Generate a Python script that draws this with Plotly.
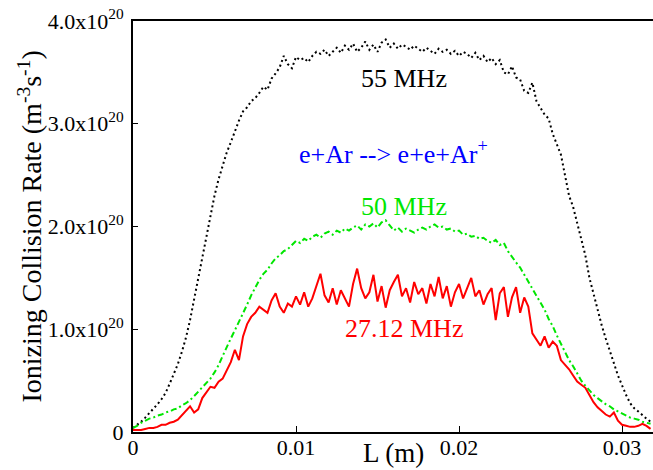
import plotly.graph_objects as go

# Position along the discharge gap (mm)
x_mm = [0, 0.25, 0.5, 0.75, 1, 1.25, 1.5, 1.75, 2, 2.25, 2.5, 2.75, 3, 3.25, 3.5, 3.75,
        4, 4.25, 4.5, 4.75, 5, 5.25, 5.5, 5.75, 6, 6.25, 6.5, 6.75, 7, 7.25, 7.5, 7.75,
        8, 8.25, 8.5, 8.75, 9, 9.25, 9.5, 9.75, 10, 10.25, 10.5, 10.75, 11, 11.25, 11.5, 11.75,
        12, 12.25, 12.5, 12.75, 13, 13.25, 13.5, 13.75, 14, 14.25, 14.5, 14.75, 15, 15.25, 15.5, 15.75,
        16, 16.25, 16.5, 16.75, 17, 17.25, 17.5, 17.75, 18, 18.25, 18.5, 18.75, 19, 19.25, 19.5, 19.75,
        20, 20.25, 20.5, 20.75, 21, 21.25, 21.5, 21.75, 22, 22.25, 22.5, 22.75, 23, 23.25, 23.5, 23.75,
        24, 24.25, 24.5, 24.75, 25, 25.25, 25.5, 25.75, 26, 26.25, 26.5, 26.75, 27, 27.25, 27.5, 27.75,
        28, 28.25, 28.5, 28.75, 29, 29.25, 29.5, 29.75, 30, 30.25, 30.5, 30.75, 31, 31.25, 31.5, 31.75]

# Ionizing collision rate, in units of 1e20 m^-3 s^-1
rate_55 = [0.04, 0.07, 0.10, 0.14, 0.18, 0.23, 0.27, 0.32, 0.38, 0.47, 0.56, 0.66, 0.78, 0.92, 1.09, 1.29,
           1.49, 1.69, 1.90, 2.12, 2.30, 2.46, 2.59, 2.72, 2.82, 2.93, 3.03, 3.12, 3.16, 3.22, 3.25, 3.30,
           3.36, 3.33, 3.44, 3.49, 3.55, 3.66, 3.58, 3.54, 3.65, 3.62, 3.64, 3.60, 3.66, 3.70, 3.68, 3.72,
           3.66, 3.70, 3.74, 3.69, 3.76, 3.72, 3.78, 3.70, 3.74, 3.80, 3.72, 3.77, 3.70, 3.79, 3.82, 3.74,
           3.78, 3.73, 3.77, 3.75, 3.72, 3.76, 3.73, 3.70, 3.74, 3.71, 3.68, 3.73, 3.70, 3.72, 3.68, 3.71,
           3.66, 3.70, 3.68, 3.64, 3.69, 3.62, 3.66, 3.60, 3.64, 3.58, 3.62, 3.50, 3.48, 3.56, 3.45, 3.43,
           3.32, 3.30, 3.40, 3.22, 3.15, 3.09, 3.05, 2.90, 2.80, 2.70, 2.50, 2.30, 2.19, 2.03, 1.85, 1.72,
           1.50, 1.34, 1.19, 1.04, 0.91, 0.78, 0.67, 0.55, 0.45, 0.36, 0.28, 0.23, 0.20, 0.16, 0.13, 0.10]

rate_50 = [0.04, 0.06, 0.09, 0.11, 0.13, 0.14, 0.16, 0.17, 0.19, 0.20, 0.22, 0.23, 0.26, 0.28, 0.31, 0.35,
           0.39, 0.43, 0.47, 0.52, 0.58, 0.65, 0.74, 0.83, 0.91, 0.99, 1.07, 1.15, 1.24, 1.33, 1.41, 1.48,
           1.54, 1.58, 1.64, 1.69, 1.72, 1.76, 1.78, 1.82, 1.86, 1.84, 1.88, 1.86, 1.90, 1.92, 1.89, 1.93,
           1.95, 1.92, 1.96, 1.94, 1.98, 1.96, 1.99, 2.01, 1.97, 2.02, 2.00, 2.03, 1.99, 2.04, 2.06, 2.01,
           1.96, 1.99, 1.95, 1.98, 1.96, 1.94, 1.97, 1.99, 1.97, 2.00, 2.02, 1.99, 2.00, 1.97, 1.98, 1.95,
           1.96, 1.92, 1.93, 1.90, 1.91, 1.88, 1.89, 1.86, 1.84, 1.87, 1.82, 1.84, 1.76, 1.70, 1.65, 1.60,
           1.53, 1.47, 1.40, 1.33, 1.26, 1.19, 1.10, 1.03, 0.94, 0.86, 0.77, 0.70, 0.64, 0.57, 0.50, 0.45,
           0.40, 0.36, 0.33, 0.30, 0.27, 0.25, 0.22, 0.20, 0.18, 0.16, 0.14, 0.13, 0.12, 0.10, 0.09, 0.08]

rate_27 = [0.02, 0.02, 0.02, 0.03, 0.04, 0.04, 0.05, 0.07, 0.07, 0.09, 0.10, 0.12, 0.16, 0.20, 0.25, 0.19,
           0.22, 0.33, 0.38, 0.44, 0.43, 0.49, 0.52, 0.60, 0.68, 0.80, 0.70, 0.93, 1.05, 1.12, 1.16, 1.22,
           1.19, 1.16, 1.28, 1.35, 1.22, 1.16, 1.25, 1.22, 1.32, 1.24, 1.36, 1.22, 1.30, 1.42, 1.54, 1.33,
           1.26, 1.40, 1.24, 1.38, 1.30, 1.22, 1.44, 1.59, 1.40, 1.30, 1.36, 1.53, 1.27, 1.42, 1.21, 1.38,
           1.46, 1.53, 1.32, 1.40, 1.26, 1.46, 1.34, 1.40, 1.25, 1.44, 1.32, 1.51, 1.30, 1.42, 1.22, 1.36,
           1.44, 1.30, 1.40, 1.50, 1.32, 1.38, 1.24, 1.34, 1.40, 1.09, 1.35, 1.41, 1.12, 1.31, 1.41, 1.16,
           1.31, 1.22, 0.96, 0.90, 0.84, 0.93, 0.82, 0.88, 0.84, 0.70, 0.66, 0.61, 0.55, 0.49, 0.46, 0.43,
           0.36, 0.29, 0.24, 0.20, 0.17, 0.15, 0.19, 0.11, 0.07, 0.06, 0.05, 0.05, 0.06, 0.08, 0.06, 0.03]

x_tick_vals = [0, 0.01, 0.02, 0.03]
x_tick_text = ["0", "0.01", "0.02", "0.03"]
y_tick_vals = [0, 1e20, 2e20, 3e20, 4e20]
y_tick_text = ["0", "1.0x10<sup>20</sup>", "2.0x10<sup>20</sup>",
               "3.0x10<sup>20</sup>", "4.0x10<sup>20</sup>"]

SERIF = "Liberation Serif, Times New Roman, serif"
GREEN = "#00e600"

x_m = [v / 1000 for v in x_mm]

def scale(vals):
    return [v * 1e20 for v in vals]

fig = go.Figure()
fig.add_trace(go.Scatter(x=x_m, y=scale(rate_55), mode="lines",
                         line=dict(color="black", width=2, dash="2px,3px"), name="55 MHz"))
fig.add_trace(go.Scatter(x=x_m, y=scale(rate_50), mode="lines",
                         line=dict(color=GREEN, width=2, dash="6px,3px,2px,3px"), name="50 MHz"))
fig.add_trace(go.Scatter(x=x_m, y=scale(rate_27), mode="lines",
                         line=dict(color="red", width=2), name="27.12 MHz"))

ann_font = dict(family=SERIF, size=26)
fig.add_annotation(x=0.0166, y=3.44e20, text="55 MHz", showarrow=False,
                   font=dict(ann_font, color="black"))
fig.add_annotation(x=0.0160, y=2.72e20, text="e+Ar --> e+e+Ar<sup>+</sup>", showarrow=False,
                   font=dict(ann_font, color="blue"))
fig.add_annotation(x=0.0166, y=2.19e20, text="50 MHz", showarrow=False,
                   font=dict(ann_font, color=GREEN))
fig.add_annotation(x=0.0166, y=1.01e20, text="27.12 MHz", showarrow=False,
                   font=dict(ann_font, color="red"))

# Axis titles
fig.add_annotation(xref="paper", yref="paper", x=-0.198, y=0.5, textangle=-90,
                   xanchor="center", yanchor="middle",
                   text="Ionizing Collision Rate (m<sup>-3</sup>s<sup>-1</sup>)",
                   showarrow=False, font=dict(family=SERIF, size=28, color="black"))
fig.add_annotation(xref="paper", yref="paper", x=0.5, y=-0.052,
                   xanchor="center", yanchor="middle",
                   text="L (m)", showarrow=False, font=dict(family=SERIF, size=27, color="black"))

fig.update_layout(
    width=653, height=470,
    margin=dict(l=133, r=0, t=21, b=38),
    paper_bgcolor="white", plot_bgcolor="white",
    showlegend=False,
    font=dict(family=SERIF, color="black"),
)
fig.update_xaxes(range=[0, 0.0319], tickvals=x_tick_vals, ticktext=x_tick_text,
                 ticks="inside", ticklen=6, tickwidth=1, tickcolor="black",
                 ticklabelstandoff=-5, ticklabeloverflow="allow",
                 showline=True, linecolor="black", linewidth=2, mirror=True,
                 showgrid=False, zeroline=False, tickfont=dict(family=SERIF, size=22))
fig.update_yaxes(range=[0, 4e20], tickvals=y_tick_vals, ticktext=y_tick_text,
                 ticks="inside", ticklen=5, tickwidth=1, tickcolor="black",
                 ticklabelstandoff=3, ticklabeloverflow="allow",
                 showline=True, linecolor="black", linewidth=2,
                 showgrid=False, zeroline=False, tickfont=dict(family=SERIF, size=22))

# Remove the page body's default 8 px margin so the figure sits at the window's corner.
fig.write_html("out.html", config={"displayModeBar": False},
               post_script="document.body.style.margin='0px';")
